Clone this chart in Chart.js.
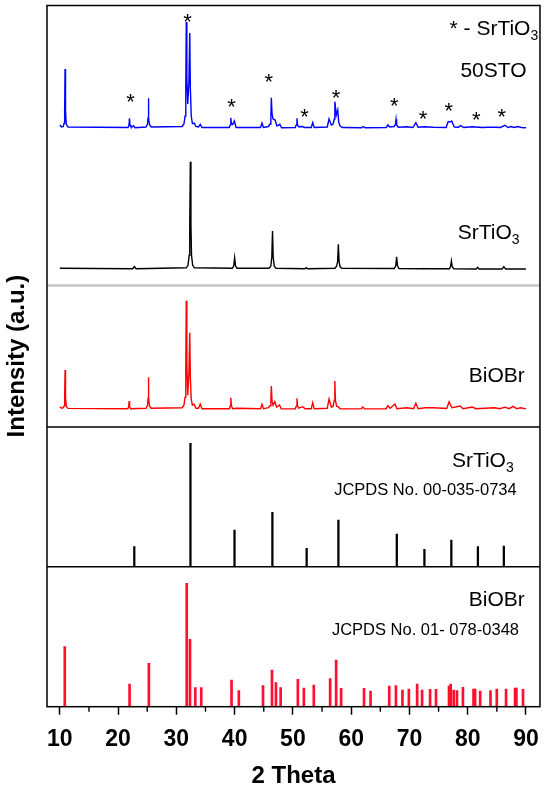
<!DOCTYPE html>
<html>
<head>
<meta charset="utf-8">
<script src="https://cdn.jsdelivr.net/npm/chart.js@4.4.1/dist/chart.umd.min.js"></script>
<style>
  html, body { margin: 0; padding: 0; background: #fff; }
</style>
</head>
<body>
<canvas id="xrdChart" width="550" height="793"></canvas>
<script>
// 2 theta ticks
const xMajorTicks = [10, 20, 30, 40, 50, 60, 70, 80, 90];
const xMinorTicks = [15, 25, 35, 45, 55, 65, 75, 85];

// 50STO pattern (blue), intensity above its own baseline
const stoMixTheta = [10.0, 10.3, 10.6, 10.75, 10.83, 10.9, 10.98, 11.1, 11.4,
  21.7, 21.87, 21.95, 22.05, 22.2, 22.4, 22.65, 22.9,
  24.8, 25.05, 25.14, 25.2, 25.27, 25.4, 25.7,
  31.0, 31.3, 31.5, 31.62, 31.7, 31.8, 31.95, 32.15, 32.3, 32.4, 32.55, 32.75,
  33.1, 33.35, 33.8, 34.1, 34.4, 39.1, 39.28, 39.35, 39.45, 39.65, 39.95, 40.25,
  44.45, 44.7, 44.95, 45.8, 46.1, 46.22, 46.3, 46.42, 46.6, 46.95, 47.25, 47.75, 48.05,
  50.4, 50.62, 50.7, 50.8, 51.0, 51.6, 52.0, 53.15, 53.4, 53.65,
  55.9, 56.2, 56.6, 56.9, 57.1, 57.2, 57.45, 57.7, 57.85, 58.1, 58.5,
  61.8, 62.05, 62.4, 66.0, 66.3, 66.6, 67.35, 67.6, 67.7, 67.8, 68.1,
  69.5, 70.6, 71.1, 71.5, 72.6, 74.1, 76.3, 76.65, 76.95, 77.25, 77.7, 78.4, 78.8, 79.3, 80.8, 82.5, 83.4,
  84.8, 85.6, 86.4, 86.9, 87.5, 88.0, 88.6, 89.2, 90.0];
const stoMixInt = [3, 1, 1.5, 5, 18, 59, 18, 4, 1,
  0.5, 3, 9.7, 3, 1.2, 1, 2.3, 0.3,
  1, 4, 10, 29.7, 10, 3, 1,
  1.5, 4, 12, 40, 106, 50, 24, 45, 95, 40, 12, 4.5,
  4.7, 1.5, 1, 3.7, 0.5, 0.5, 3.5, 10.3, 4, 3.5, 7, 0.5,
  0.5, 5, 0.5, 1.5, 4, 12, 30.3, 14, 9, 8, 2, 3.7, 0.3,
  0.5, 3.5, 9.7, 3, 1.2, 1.5, 0.5, 0.5, 5.3, 0.5,
  1, 9, 3, 4, 9, 26.3, 13, 18, 6, 2, 0.5,
  0.3, 1.5, 0.3, 0.5, 3, 1, 1.5, 3.5, 8.7, 3, 0.8,
  1.2, 0.5, 5.3, 0.8, 1.2, 0.8, 0.5, 6.5, 6, 7, 1, 0.8, 2.3, 0.5, 1.3, 0.5, 0.8,
  0.8, 0.5, 2.7, 0.5, 1.5, 0.5, 1.5, 0.5, 0.3];

// SrTiO3 pattern (black)
const stoTheta = [10.0, 22.5, 22.8, 23.1, 31.7, 32.0, 32.2, 32.3, 32.4, 32.5, 32.6, 32.8, 33.1,
  39.6, 39.85, 40.0, 40.15, 40.4, 45.9, 46.2, 46.38, 46.5, 46.62, 46.8, 47.1,
  52.05, 52.3, 52.55, 57.2, 57.5, 57.68, 57.8, 57.92, 58.1, 58.4,
  67.4, 67.65, 67.8, 67.95, 68.2, 72.3, 72.5, 72.7, 76.85, 77.05, 77.2, 77.35, 77.6,
  81.45, 81.7, 81.95, 85.9, 86.2, 86.5, 90.0];
const stoInt = [1, 0.5, 2.6, 0.5, 1.5, 4, 14, 45, 107.6, 45, 14, 4, 1.5,
  1, 3.5, 11.6, 3.5, 1, 1, 3, 12, 38.3, 12, 3, 1,
  0.5, 1.6, 0.5, 1, 3, 8, 25, 8, 2.5, 1,
  0.8, 3.5, 12.6, 3.5, 0.8, 0.5, 0.8, 0.5, 0.6, 2.5, 8.3, 2.5, 0.6,
  0.3, 2, 0.3, 0.3, 2.6, 0.3, 0.3];

// BiOBr pattern (red)
const bioTheta = [10.0, 10.3, 10.6, 10.75, 10.83, 10.9, 10.98, 11.1, 11.4,
  21.65, 21.82, 21.9, 21.98, 22.15, 24.8, 25.05, 25.14, 25.2, 25.27, 25.4, 25.7,
  31.0, 31.3, 31.5, 31.62, 31.7, 31.8, 31.95, 32.15, 32.3, 32.4, 32.55, 32.75,
  33.05, 33.35, 33.8, 34.1, 34.4, 39.1, 39.27, 39.35, 39.45, 39.65, 40.3,
  44.45, 44.7, 44.95, 45.8, 46.1, 46.22, 46.3, 46.42, 46.6, 46.9, 47.2, 47.7, 48.0,
  50.4, 50.62, 50.7, 50.8, 51.0, 51.7, 52.1, 53.15, 53.4, 53.65,
  55.9, 56.2, 56.6, 56.9, 57.1, 57.2, 57.3, 57.5, 57.75, 58.1,
  61.7, 62.0, 62.3, 66.0, 66.3, 66.7, 67.5, 67.85,
  69.5, 70.7, 71.1, 71.5, 72.7, 74.1, 76.4, 76.8, 77.3, 78.7, 79.2, 80.8, 81.4, 84.6, 85.5, 86.4, 87.1,
  87.8, 88.4, 89.1, 90.0];
const bioInt = [2.5, 1, 1.5, 3.5, 12, 39.2, 12, 3, 0.8,
  0.5, 2.5, 8.2, 2.5, 0.5, 1, 4, 11, 31.9, 11, 3, 1,
  1.5, 4, 12, 40, 108.5, 45, 14, 35, 76.5, 32, 10, 4,
  5, 1, 1, 5, 0.5, 0.5, 3.5, 11.5, 3.5, 0.5, 1,
  0.5, 5, 0.5, 1.5, 3.5, 9, 23.2, 8, 4, 7.5, 2, 4.2, 0.3,
  0.5, 3.5, 11, 3.5, 1, 2.5, 0.5, 0.5, 6.5, 0.5,
  1, 10.2, 2, 3, 9, 28.2, 9, 3, 2.5, 0.5,
  0.3, 2.2, 0.3, 0.5, 3.5, 1, 5.2, 0.5,
  1.5, 0.5, 6, 0.5, 1.5, 1.5, 0.8, 7.5, 1.5, 3.2, 0.5, 2.2, 0.5, 1.5, 0.5, 2, 0.5,
  2.8, 0.5, 1.5, 0.3];

// reference cards
const stoRefTheta = [22.78, 32.42, 39.98, 46.48, 52.36, 57.81, 67.83, 72.57, 77.19, 81.75, 86.2];
const stoRefInt = [20, 123.4, 36.7, 54.4, 18.4, 46.7, 32.7, 17.4, 26.7, 20, 20.7];

const bioRefTheta = [10.85, 21.97, 25.28, 31.78, 32.34, 33.25, 34.27, 39.47, 40.72, 44.87, 46.41, 47.09, 47.9,
  50.85, 51.88, 53.59, 56.39, 57.42, 58.27, 62.21, 63.33, 66.53, 67.68, 68.8, 69.9, 71.32, 72.17, 73.54, 74.56,
  76.79, 77.08, 77.59, 78.15, 79.18, 81.0, 81.27, 82.14, 83.91, 84.99, 86.58, 88.12, 88.36, 89.49];
const bioRefInt = [60, 22.7, 43.3, 123.3, 67.3, 19, 19, 26.7, 16, 21, 36.7, 24, 19,
  27.3, 18.7, 21.7, 28, 46.7, 18.3, 18.3, 15.7, 20.7, 21, 16.7, 17.7, 22.7, 16.7, 17.3, 17.3,
  20.7, 22.7, 16.7, 16, 19.3, 17.7, 17.7, 15.7, 16, 17.7, 17.7, 18.7, 18.7, 17.3];

// SrTiO3 marks on the 50STO pattern
const starTheta = [22.15, 31.9, 39.45, 45.85, 52.0, 57.4, 67.4, 72.35, 76.75, 81.45, 85.85];
const starLevel = [31.3, 112, 26.3, 51.3, 17, 35.7, 28, 14.7, 23, 13.7, 16.3];

// panel baselines on the stacked axis
const BASE = { bioRef: 0, stoRef: 140, sep: 279.7, bio: 297.5, grey: 421.2, sto: 437.4, mix: 578.7, top: 701.2 };
const FONT = '"Liberation Sans", Arial, sans-serif';

function toLine(theta, values, base) {
  return theta.map((t, i) => ({ x: t, y: base + values[i] }));
}
function toSticks(theta, values, base) {
  return theta.map((t, i) => ({ x: t, y: [base, base + values[i]] }));
}

const panelLabels = [
  { text: '* - SrTiO', sub: '3', theta: 92.1, level: 677.5, size: 21 },
  { text: '50STO', theta: 90.1, level: 635.5, size: 21 },
  { text: 'SrTiO', sub: '3', theta: 88.9, level: 473.5, size: 21 },
  { text: 'BiOBr', theta: 89.8, level: 330, size: 21 },
  { text: 'SrTiO', sub: '3', theta: 87.9, level: 245, size: 21 },
  { text: 'JCPDS No. 00-035-0734', theta: 88.4, level: 216.5, size: 16.5 },
  { text: 'BiOBr', theta: 89.8, level: 106, size: 21 },
  { text: 'JCPDS No. 01- 078-0348', theta: 88.8, level: 76.5, size: 16.5 }
];

// frame, panel dividers, minor ticks, star marks and panel labels
const decorPlugin = {
  id: 'decor',
  afterDatasetsDraw(chart) {
    const { ctx, chartArea: a, scales: { x, y } } = chart;
    ctx.save();

    // grey divider between the two sample groups
    ctx.strokeStyle = '#c4c4c4';
    ctx.lineWidth = 2.5;
    ctx.beginPath();
    ctx.moveTo(a.left, y.getPixelForValue(BASE.grey));
    ctx.lineTo(a.right, y.getPixelForValue(BASE.grey));
    ctx.stroke();

    // black dividers
    ctx.strokeStyle = '#000';
    ctx.lineWidth = 1.4;
    [BASE.sep, BASE.stoRef].forEach(v => {
      const py = y.getPixelForValue(v);
      ctx.beginPath();
      ctx.moveTo(a.left, py);
      ctx.lineTo(a.right, py);
      ctx.stroke();
    });

    // minor ticks
    xMinorTicks.forEach(v => {
      const px = x.getPixelForValue(v);
      ctx.beginPath();
      ctx.moveTo(px, a.bottom);
      ctx.lineTo(px, a.bottom + 5);
      ctx.stroke();
    });

    // frame
    ctx.lineWidth = 1.5;
    ctx.strokeRect(a.left, a.top, a.right - a.left, a.bottom - a.top);

    // stars
    ctx.fillStyle = '#000';
    ctx.font = '22px ' + FONT;
    ctx.textAlign = 'center';
    ctx.textBaseline = 'alphabetic';
    starTheta.forEach((t, i) => {
      ctx.fillText('*', x.getPixelForValue(t), y.getPixelForValue(BASE.mix + starLevel[i]) + 0.57 * 22);
    });

    // labels, right aligned
    ctx.textAlign = 'left';
    ctx.textBaseline = 'middle';
    panelLabels.forEach(lb => {
      const mainFont = lb.size + 'px ' + FONT;
      const subSize = Math.round(lb.size * 0.66);
      const subFont = subSize + 'px ' + FONT;
      ctx.font = mainFont;
      const w1 = ctx.measureText(lb.text).width;
      let w2 = 0;
      if (lb.sub) {
        ctx.font = subFont;
        w2 = ctx.measureText(lb.sub).width;
      }
      const right = x.getPixelForValue(lb.theta);
      const py = y.getPixelForValue(lb.level);
      const start = right - w1 - w2;
      ctx.font = mainFont;
      ctx.fillText(lb.text, start, py);
      if (lb.sub) {
        ctx.font = subFont;
        ctx.fillText(lb.sub, start + w1, py + lb.size * 0.33);
      }
    });

    ctx.restore();
  }
};

const ctx = document.getElementById('xrdChart').getContext('2d');

new Chart(ctx, {
  type: 'line',
  data: {
    datasets: [
      { label: '50STO', data: toLine(stoMixTheta, stoMixInt, BASE.mix), borderColor: '#0000ff', borderWidth: 1.4, pointRadius: 0, tension: 0 },
      { label: 'SrTiO3', data: toLine(stoTheta, stoInt, BASE.sto), borderColor: '#000000', borderWidth: 1.4, pointRadius: 0, tension: 0 },
      { label: 'BiOBr', data: toLine(bioTheta, bioInt, BASE.bio), borderColor: '#ff0000', borderWidth: 1.4, pointRadius: 0, tension: 0 },
      { type: 'bar', label: 'SrTiO3 JCPDS', data: toSticks(stoRefTheta, stoRefInt, BASE.stoRef), backgroundColor: '#000000', barThickness: 1.6, grouped: false, borderWidth: 0 },
      { type: 'bar', label: 'BiOBr JCPDS', data: toSticks(bioRefTheta, bioRefInt, BASE.bioRef), backgroundColor: '#ff1030', barThickness: 2, grouped: false, borderWidth: 0 }
    ]
  },
  options: {
    responsive: false,
    animation: false,
    layout: { padding: { top: 5.5, right: 8, left: 0, bottom: 0 } },
    plugins: {
      legend: { display: false },
      tooltip: { enabled: false }
    },
    scales: {
      x: {
        type: 'linear',
        min: 7.8,
        max: 92.4,
        offset: false,
        afterBuildTicks: s => { s.ticks = xMajorTicks.map(v => ({ value: v })); },
        afterFit: s => { s.height = 86.3; },
        ticks: {
          color: '#000',
          padding: 11,
          maxRotation: 0,
          font: { family: FONT, size: 23, weight: 'bold' },
          callback: v => String(v)
        },
        grid: {
          offset: false,
          drawOnChartArea: false,
          drawTicks: true,
          tickLength: 8,
          tickWidth: 1.5,
          tickColor: '#000'
        },
        border: { display: false },
        title: {
          display: true,
          text: '2 Theta',
          color: '#000',
          font: { family: FONT, size: 24, weight: 'bold' },
          padding: { top: 0, bottom: 2.6 }
        }
      },
      y: {
        type: 'linear',
        min: 0,
        max: BASE.top,
        afterFit: s => { s.width = 47; },
        ticks: { display: false },
        grid: { display: false },
        border: { display: false },
        title: {
          display: true,
          text: 'Intensity (a.u.)',
          color: '#000',
          font: { family: FONT, size: 24, weight: 'bold' },
          padding: { top: 2.6, bottom: 0 }
        }
      }
    }
  },
  plugins: [decorPlugin]
});
</script>
</body>
</html>
